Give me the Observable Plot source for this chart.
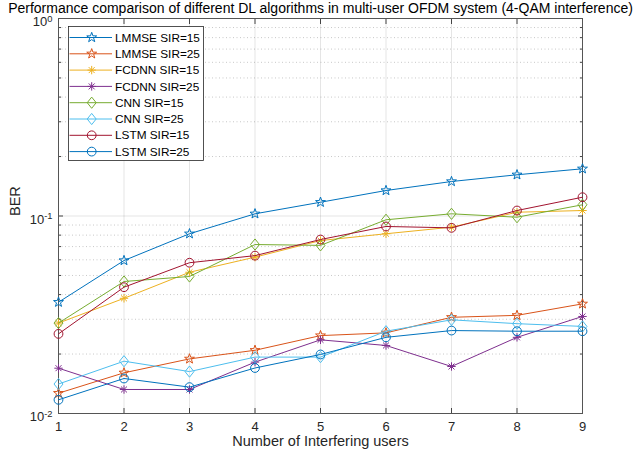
<!DOCTYPE html>
<html><head><meta charset="utf-8">
<script src="https://cdn.jsdelivr.net/npm/d3@7"></script>
<script src="https://cdn.jsdelivr.net/npm/@observablehq/plot@0.6"></script>
<style>body{margin:0;background:#fff;}</style>
</head><body><div id="chart"></div>
<script>
const titleText = "Performance comparison of different DL algorithms in multi-user OFDM system (4-QAM interference)";
const xLabel = "Number of Interfering users";
const yLabel = "BER";
const users = [1, 2, 3, 4, 5, 6, 7, 8, 9];
const lmmse15 = [0.0366, 0.0595, 0.0813, 0.1026, 0.1174, 0.1346, 0.1495, 0.1617, 0.1734];
const lmmse25 = [0.01267, 0.01607, 0.0189, 0.0209, 0.0248, 0.0256, 0.0307, 0.0314, 0.0359];
const fcdnn15 = [0.0287, 0.0383, 0.0519, 0.0619, 0.0751, 0.0813, 0.0878, 0.1045, 0.1066];
const fcdnn25 = [0.01696, 0.01323, 0.01323, 0.0182, 0.0236, 0.0221, 0.0173, 0.0243, 0.031];
const cnn15 = [0.0287, 0.0466, 0.0494, 0.0717, 0.0710, 0.0957, 0.1026, 0.0986, 0.114];
const cnn25 = [0.0141, 0.0184, 0.0163, 0.0193, 0.0193, 0.0261, 0.0298, 0.0285, 0.0276];
const lstm15 = [0.0253, 0.0436, 0.058, 0.063, 0.076, 0.0885, 0.0871, 0.1066, 0.1245];
const lstm25 = [0.01173, 0.01504, 0.0136, 0.0170, 0.0199, 0.0243, 0.0263, 0.0261, 0.0261];
const seriesNames = ["LMMSE SIR=15", "LMMSE SIR=25", "FCDNN SIR=15", "FCDNN SIR=25", "CNN SIR=15", "CNN SIR=25", "LSTM SIR=15", "LSTM SIR=25"];
const seriesValues = [lmmse15, lmmse25, fcdnn15, fcdnn25, cnn15, cnn25, lstm15, lstm25];
const seriesColors = ["#0072BD", "#D95319", "#EDB120", "#7E2F8E", "#77AC30", "#4DBEEE", "#A2142F", "#0072BD"];
const seriesMarkers = ["star", "star", "asterisk", "asterisk", "diamond", "diamond", "circle", "circle"];
const yMajorTicks = [0.01, 0.1, 1];
const yMinorTicks = [0.02,0.03,0.04,0.05,0.06,0.07,0.08,0.09,0.2,0.3,0.4,0.5,0.6,0.7,0.8,0.9];
const yTickLabels = ["10^-2", "10^-1", "10^0"];

// custom symbols (size = pi r^2 -> R = r)
const symbols = {
  star: {draw(c, size) { const R = Math.sqrt(size / Math.PI), ri = R * 0.4;
    for (let i = 0; i < 10; i++) { const a = -Math.PI / 2 + i * Math.PI / 5, rr = i % 2 ? ri : R;
      const x = rr * Math.cos(a), y = rr * Math.sin(a); i ? c.lineTo(x, y) : c.moveTo(x, y); } c.closePath(); }},
  asterisk: {draw(c, size) { const R = Math.sqrt(size / Math.PI);
    for (let i = 0; i < 4; i++) { const a = i * Math.PI / 4, x = R * Math.cos(a), y = R * Math.sin(a);
      c.moveTo(-x, -y); c.lineTo(x, y); } }},
  diamond: {draw(c, size) { const R = Math.sqrt(size / Math.PI), w = R * 0.8;
    c.moveTo(0, -R); c.lineTo(w, 0); c.lineTo(0, R); c.lineTo(-w, 0); c.closePath(); }},
  circle: {draw(c, size) { const R = Math.sqrt(size / Math.PI); c.moveTo(R, 0); c.arc(0, 0, R, 0, 2 * Math.PI); }}
};
const markerR = {star: 5.2, asterisk: 4.2, diamond: 5.6, circle: 4.4};

const rows = [];
seriesNames.forEach((name, s) => users.forEach((u, i) => rows.push({series: name, idx: s, x: u, y: seriesValues[s][i]})));

const font = "'Liberation Sans', Arial, Helvetica, sans-serif";
const marks = [
  Plot.gridX(users, {stroke: "#000", strokeOpacity: 0.1}),
  Plot.gridY(yMinorTicks, {stroke: "#000", strokeOpacity: 0.22, strokeDasharray: "1,2.5"}),
  Plot.gridY(yMajorTicks, {stroke: "#000", strokeOpacity: 0.1}),
  Plot.axisX(users, {anchor: "bottom", tickSize: 0, tickPadding: 8, fontSize: 13, label: null, fill: "#262626"}),
  Plot.axisX(users, {anchor: "bottom", tickSize: -5, tickFormat: () => "", label: null, stroke: "#444"}),
  Plot.axisX(users, {anchor: "top", tickSize: -5, tickFormat: () => "", label: null, stroke: "#444"}),
  Plot.axisY(yMajorTicks, {anchor: "left", tickSize: 0, tickPadding: 6, fontSize: 13, dy: 3.5, label: null, fill: "#262626",
    tickFormat: v => yTickLabels[yMajorTicks.indexOf(v)]}),
  Plot.axisY(yMajorTicks, {anchor: "left", tickSize: -5, tickFormat: () => "", label: null, stroke: "#444"}),
  Plot.axisY(yMajorTicks, {anchor: "right", tickSize: -5, tickFormat: () => "", label: null, stroke: "#444"}),
  Plot.axisY(yMinorTicks, {anchor: "left", tickSize: -3, tickFormat: () => "", label: null, stroke: "#444"}),
  Plot.axisY(yMinorTicks, {anchor: "right", tickSize: -3, tickFormat: () => "", label: null, stroke: "#444"}),
  Plot.frame({stroke: "#555", strokeWidth: 1})
];
seriesNames.forEach((name, s) => {
  const d = rows.filter(r => r.idx === s);
  marks.push(Plot.line(d, {x: "x", y: "y", stroke: seriesColors[s], strokeWidth: 1}));
  marks.push(Plot.dot(d, {x: "x", y: "y", stroke: seriesColors[s], fill: "none", strokeWidth: 1,
    symbol: symbols[seriesMarkers[s]], r: markerR[seriesMarkers[s]]}));
});
marks.push(Plot.text([titleText], {text: d => d, frameAnchor: "top", lineAnchor: "middle", dy: -10, fontSize: 14, fill: "#000"}));
marks.push(Plot.text([xLabel], {text: d => d, frameAnchor: "bottom", lineAnchor: "middle", dy: 28, fontSize: 14.5, fill: "#262626"}));
marks.push(Plot.text([yLabel], {text: d => d, frameAnchor: "left", dx: -43, rotate: -90, fontSize: 14.5, fill: "#262626"}));

const chart = Plot.plot({
  width: 640, height: 456,
  marginTop: 18, marginBottom: 43, marginLeft: 58, marginRight: 58,
  style: {fontFamily: font, background: "#fff", overflow: "visible"},
  x: {domain: [1, 9], axis: null},
  y: {type: "log", domain: [0.01, 1], axis: null},
  marks
});
document.getElementById("chart").appendChild(chart);

const svg = d3.select(chart);
// superscript exponents for y tick labels
svg.selectAll("text").each(function() {
  const t = this.textContent;
  const m = /^10\^(-?\d+)$/.exec(t);
  if (m) {
    const el = d3.select(this);
    el.text("");
    el.append("tspan").text("10");
    el.append("tspan").attr("dy", "-0.45em").attr("font-size", "0.72em").text(m[1]);
  }
});
// legend
const lg = svg.append("g").attr("font-family", font).attr("font-size", 11.8).attr("text-anchor", "start");
const lx = 68.5, ly = 26.5, lw = 135, lh = 134, step = 16.3;
lg.append("rect").attr("x", lx).attr("y", ly).attr("width", lw).attr("height", lh)
  .attr("fill", "#fff").attr("stroke", "#262626").attr("stroke-width", 0.8);
seriesNames.forEach((name, s) => {
  const y = ly + 11 + s * step;
  lg.append("line").attr("x1", lx + 1).attr("x2", lx + 43.5).attr("y1", y).attr("y2", y)
    .attr("stroke", seriesColors[s]).attr("stroke-width", 1);
  const mk = seriesMarkers[s], r = markerR[mk];
  lg.append("path").attr("d", d3.symbol(symbols[mk], Math.PI * r * r)())
    .attr("transform", `translate(${lx + 23.2},${y})`).attr("fill", "none").attr("stroke", seriesColors[s]);
  lg.append("text").attr("x", lx + 46.5).attr("y", y).attr("dy", "0.35em").attr("text-anchor", "start")
    .attr("fill", "#000").text(name);
});
</script></body></html>
